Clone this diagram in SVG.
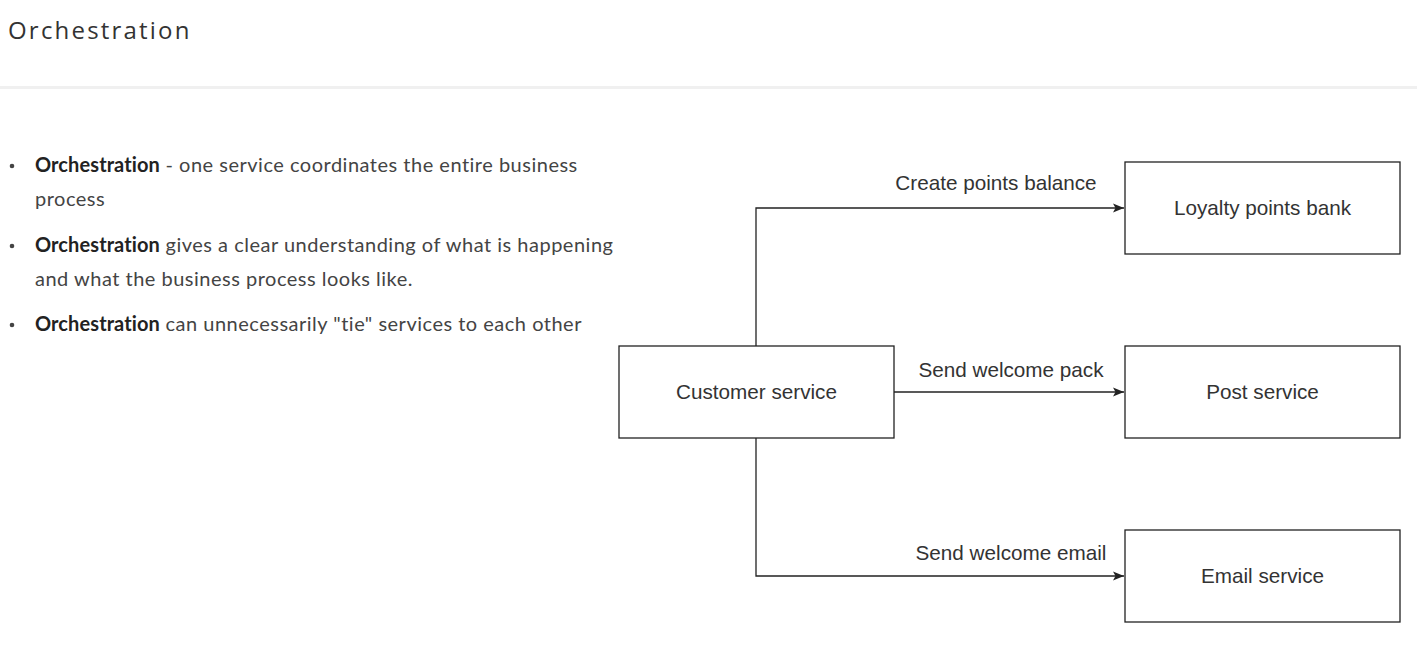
<svg xmlns="http://www.w3.org/2000/svg" width="1417" height="655" viewBox="0 0 1417 655">
<style>
.title{font-family:"Open Sans","Noto Sans",sans-serif;font-size:24px;fill:#333;letter-spacing:2.2px}
.bl{font-family:Lato,"Liberation Sans",sans-serif;font-size:20px;fill:#444;letter-spacing:0.5px}
.bl tspan.b{font-weight:bold;fill:#222;letter-spacing:0.1px}
.box{fill:#fff;stroke:#222;stroke-width:1.3}
.nt{font-family:"Liberation Sans",Arial,sans-serif;font-size:20.7px;fill:#333;text-anchor:middle}
.el{font-family:"Liberation Sans",Arial,sans-serif;font-size:20.7px;fill:#333;text-anchor:middle}
.edge{fill:none;stroke:#222;stroke-width:1.3;marker-end:url(#ah)}
</style>
<defs>
<marker id="ah" markerWidth="12" markerHeight="10" refX="11" refY="5" orient="auto" markerUnits="userSpaceOnUse">
<path d="M0,0.5 L11,5 L0,9.5 L2.5,5 Z" fill="#222"/>
</marker>
</defs>
<rect width="1417" height="655" fill="#fff"/>
<text class="title" x="8" y="39">Orchestration</text>
<rect x="0" y="86" width="1417" height="3" fill="#f0f0f0"/>
<g id="bullets">
<circle cx="12" cy="166" r="2.3" fill="#444"/>
<text class="bl" x="35" y="172"><tspan class="b">Orchestration</tspan> - one service coordinates the entire business</text>
<text class="bl" x="35" y="206">process</text>
<circle cx="12" cy="246" r="2.3" fill="#444"/>
<text class="bl" x="35" y="252"><tspan class="b">Orchestration</tspan> gives a clear understanding of what is happening</text>
<text class="bl" x="35" y="286">and what the business process looks like.</text>
<circle cx="12" cy="325" r="2.3" fill="#444"/>
<text class="bl" x="35" y="331"><tspan class="b">Orchestration</tspan> can unnecessarily "tie" services to each other</text>
</g>
<g id="connectors">
<path class="edge" d="M756,346 V208 H1124"/>
<path class="edge" d="M894,392 H1124"/>
<path class="edge" d="M756,438 V576 H1124"/>
<text class="el" x="996" y="190">Create points balance</text>
<text class="el" x="1011" y="377">Send welcome pack</text>
<text class="el" x="1011" y="560">Send welcome email</text>
</g>
<g id="customer">
<rect class="box" x="619" y="346" width="275" height="92"/>
<text class="nt" x="756.5" y="399">Customer service</text>
</g>
<g id="loyalty">
<rect class="box" x="1125" y="162" width="275" height="92"/>
<text class="nt" x="1262.5" y="215">Loyalty points bank</text>
</g>
<g id="post">
<rect class="box" x="1125" y="346" width="275" height="92"/>
<text class="nt" x="1262.5" y="399">Post service</text>
</g>
<g id="email">
<rect class="box" x="1125" y="530" width="275" height="92"/>
<text class="nt" x="1262.5" y="583">Email service</text>
</g>
</svg>
